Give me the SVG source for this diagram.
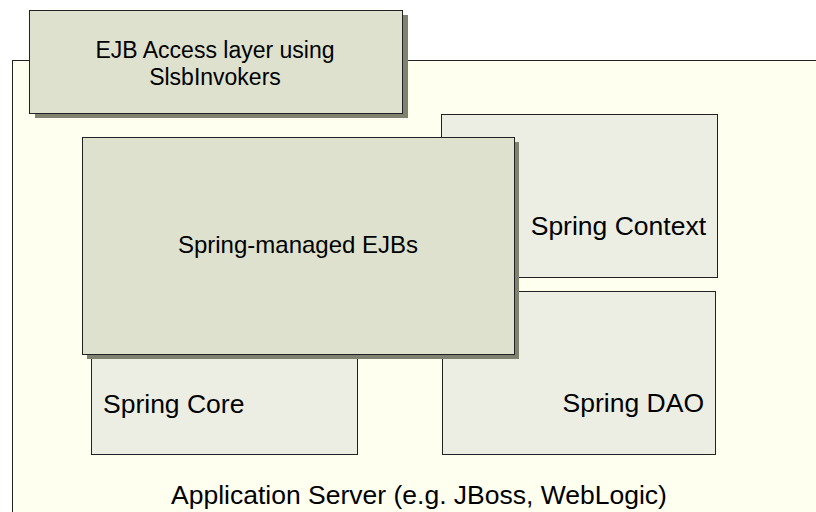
<svg xmlns="http://www.w3.org/2000/svg" width="816" height="512" viewBox="0 0 816 512">
<style>
  text { font-family: "Liberation Sans", Arial, sans-serif; fill: #000; }
  .box { stroke: #222; stroke-width: 1; }
  .dark { fill: #DDE1CD; }
  .light { fill: #ECEEE3; }
  .shadow { fill: #7F8171; }
</style>
<rect x="0" y="0" width="816" height="512" fill="#FFFFFF"/>
<g id="application-server">
  <rect x="12.5" y="60.5" width="900" height="500" fill="#FFFFF0" stroke="#222" stroke-width="1"/>
  <text x="419" y="504" font-size="26.5" text-anchor="middle">Application Server (e.g. JBoss, WebLogic)</text>
</g>
<g id="spring-context">
  <rect class="box light" x="441.5" y="114.5" width="276" height="163"/>
  <text x="706" y="235" font-size="26.5" text-anchor="end">Spring Context</text>
</g>
<g id="spring-dao">
  <rect class="box light" x="442.5" y="291.5" width="273" height="163" stroke="#555"/>
  <text x="704" y="412" font-size="26.5" text-anchor="end">Spring DAO</text>
</g>
<g id="spring-core">
  <rect class="box light" x="91.5" y="300.5" width="266" height="154"/>
  <text x="103" y="413" font-size="26.5">Spring Core</text>
</g>
<g id="spring-managed-ejbs">
  <rect class="shadow" x="87" y="142" width="432" height="217"/>
  <rect class="box dark" x="82.5" y="137.5" width="432" height="217"/>
  <text x="298" y="253" font-size="24" text-anchor="middle">Spring-managed EJBs</text>
</g>
<g id="ejb-access-layer">
  <rect class="shadow" x="35" y="15" width="373" height="103"/>
  <rect class="box dark" x="29.5" y="10.5" width="373" height="103"/>
  <text x="215" y="58" font-size="23" text-anchor="middle">EJB Access layer using</text>
  <text x="215" y="85" font-size="23" text-anchor="middle">SlsbInvokers</text>
</g>
<g id="connectors"></g>
</svg>
